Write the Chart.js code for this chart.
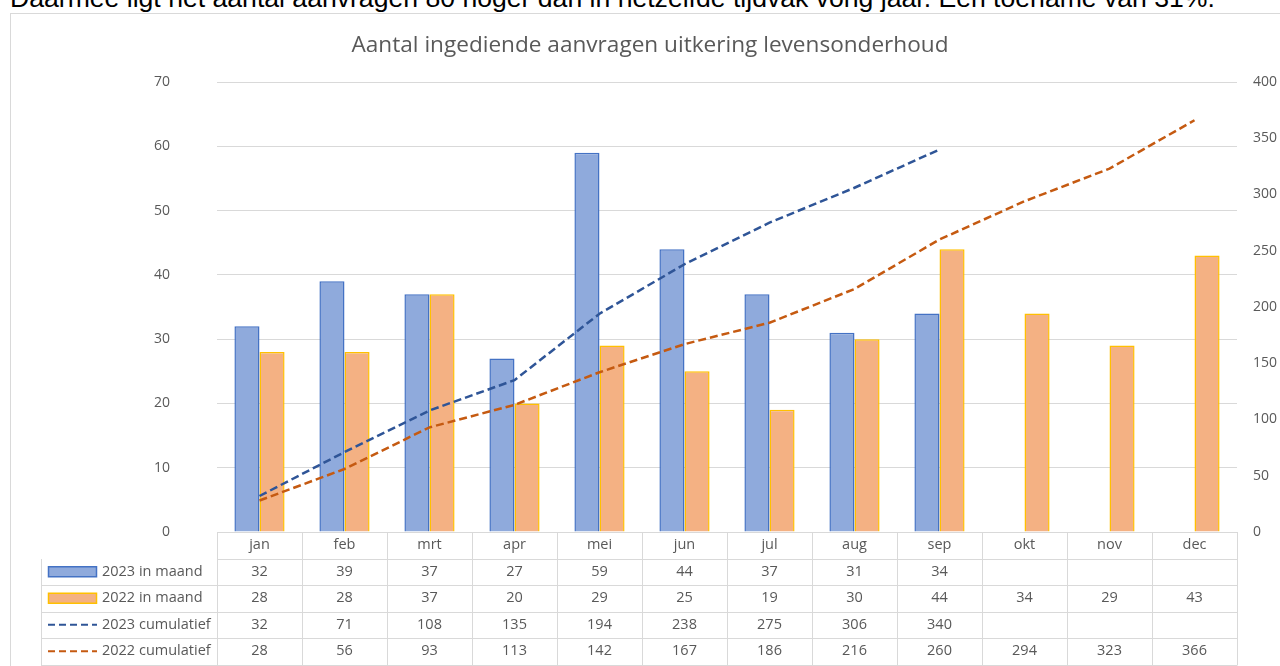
<!DOCTYPE html>
<html>
<head>
<meta charset="utf-8">
<script src="https://cdn.jsdelivr.net/npm/chart.js@4.4.1/dist/chart.umd.min.js"></script>
<style>
  html, body { margin: 0; padding: 0; background: #fff; overflow: hidden; }
  body { width: 1280px; height: 666px; position: relative; }
  #intro {
    position: absolute; left: 10px; top: -15px;
    font-family: "Liberation Sans", Arial, sans-serif; font-size: 26.6px; line-height: 27px;
    color: #000; white-space: nowrap;
  }
  #box {
    position: absolute; left: 10px; top: 13px; width: 1269px; height: 652px;
    border-left: 1px solid #d9d9d9; border-top: 1px solid #d9d9d9;
  }
</style>
</head>
<body>
<div id="intro">Daarmee ligt het aantal aanvragen 80 hoger dan in hetzelfde tijdvak vorig jaar. Een toename van 31%.</div>
<div id="box"><canvas id="grafiek"></canvas></div>
<script>
// Gegevens
const maanden = ['jan', 'feb', 'mrt', 'apr', 'mei', 'jun', 'jul', 'aug', 'sep', 'okt', 'nov', 'dec'];
const maand2023 = [32, 39, 37, 27, 59, 44, 37, 31, 34, null, null, null];
const maand2022 = [28, 28, 37, 20, 29, 25, 19, 30, 44, 34, 29, 43];
const cum2023 = [32, 71, 108, 135, 194, 238, 275, 306, 340, null, null, null];
const cum2022 = [28, 56, 93, 113, 142, 167, 186, 216, 260, 294, 323, 366];
const ticksLinks = [0, 10, 20, 30, 40, 50, 60, 70];
const ticksRechts = [0, 50, 100, 150, 200, 250, 300, 350, 400];

const titel = 'Aantal ingediende aanvragen uitkering levensonderhoud';
const grijs = '#595959';
const lijnkleur = '#d9d9d9';
const font = '"Open Sans", "Noto Sans", sans-serif';

// Reeksen met hun sleutel in de tabel
const reeksen = [
    { label: '2023 in maand', data: maand2023, soort: 'bar', vulling: '#8faadc', rand: '#4472c4' },
    { label: '2022 in maand', data: maand2022, soort: 'bar', vulling: '#f4b183', rand: '#ffc000' },
    { label: '2023 cumulatief', data: cum2023, soort: 'line', rand: '#2f5597' },
    { label: '2022 cumulatief', data: cum2022, soort: 'line', rand: '#c55a11' }
];

// Titel en datatabel onder de grafiek
const tabelPlugin = {
    id: 'tabel',
    afterDraw(chart) {
        const ctx = chart.ctx;
        const x = chart.scales.x;
        const area = chart.chartArea;
        const kol = x.getPixelForValue(1) - x.getPixelForValue(0);
        const rij = 26.5;
        const links = 30;
        const top = area.bottom;

        ctx.save();
        // titel
        ctx.fillStyle = grijs;
        ctx.font = '22.6px ' + font;
        ctx.textAlign = 'center';
        ctx.textBaseline = 'alphabetic';
        ctx.fillText(titel, 639, 38);

        // rasterlijnen
        ctx.strokeStyle = lijnkleur;
        ctx.lineWidth = 1;
        ctx.beginPath();
        for (let r = 1; r <= 5; r++) {
            const y = Math.round(top + r * rij) + 0.5;
            ctx.moveTo(r === 1 ? area.left : links, y);
            ctx.lineTo(area.right, y);
        }
        const bodem = Math.round(top + 5 * rij) + 0.5;
        ctx.moveTo(links + 0.5, Math.round(top + rij));
        ctx.lineTo(links + 0.5, bodem);
        for (let i = 0; i <= maanden.length; i++) {
            const xx = Math.round(area.left + i * kol) + 0.5;
            ctx.moveTo(xx, top);
            ctx.lineTo(xx, bodem);
        }
        ctx.stroke();

        // maanden
        ctx.fillStyle = grijs;
        ctx.font = '14.5px ' + font;
        ctx.textBaseline = 'middle';
        ctx.textAlign = 'center';
        maanden.forEach((m, i) => ctx.fillText(m, x.getPixelForValue(i), top + rij / 2));

        // rijen
        reeksen.forEach((s, r) => {
            const yc = top + (r + 1.5) * rij;
            ctx.textAlign = 'center';
            s.data.forEach((v, i) => {
                if (v !== null) ctx.fillText(String(v), x.getPixelForValue(i), yc);
            });
            // sleutel
            if (s.soort === 'bar') {
                ctx.fillStyle = s.vulling;
                ctx.fillRect(37.5, yc - 5, 48, 10);
                ctx.strokeStyle = s.rand;
                ctx.lineWidth = 1.5;
                ctx.strokeRect(37.5, yc - 5, 48, 10);
            } else {
                ctx.strokeStyle = s.rand;
                ctx.lineWidth = 2.2;
                ctx.setLineDash([7, 4]);
                ctx.beginPath();
                ctx.moveTo(37, yc);
                ctx.lineTo(86, yc);
                ctx.stroke();
                ctx.setLineDash([]);
            }
            ctx.fillStyle = grijs;
            ctx.textAlign = 'left';
            ctx.fillText(s.label, 91, yc);
        });
        ctx.restore();
    }
};

window.onload = function () {
    const ctx = document.getElementById('grafiek');

    const datasets = reeksen.map(s => s.soort === 'bar' ? {
        type: 'bar',
        label: s.label,
        data: s.data,
        backgroundColor: s.vulling,
        borderColor: s.rand,
        borderWidth: 1.5,
        yAxisID: 'y',
        order: 2
    } : {
        type: 'line',
        label: s.label,
        data: s.data,
        borderColor: s.rand,
        borderWidth: 2.5,
        borderDash: [8, 4],
        pointRadius: 0,
        fill: false,
        tension: 0,
        yAxisID: 'y1',
        order: 1
    });

    new Chart(ctx, {
        type: 'bar',
        data: { labels: maanden, datasets: datasets },
        options: {
            responsive: true,
            maintainAspectRatio: false,
            animation: false,
            devicePixelRatio: 1,
            categoryPercentage: 0.59,
            barPercentage: 1,
            layout: { padding: { top: 68, bottom: 134, left: 0, right: 0 } },
            plugins: {
                legend: { display: false },
                title: { display: false },
                tooltip: { enabled: false }
            },
            scales: {
                x: { display: false },
                y: {
                    position: 'left',
                    min: 0, max: 70,
                    afterFit: s => { s.width = 206; },
                    afterBuildTicks: s => { s.ticks = ticksLinks.map(v => ({ value: v })); },
                    grid: { color: lijnkleur, drawTicks: false },
                    border: { display: false },
                    ticks: { color: grijs, padding: 47, font: { family: font, size: 14 } }
                },
                y1: {
                    position: 'right',
                    min: 0, max: 400,
                    afterFit: s => { s.width = 43; },
                    afterBuildTicks: s => { s.ticks = ticksRechts.map(v => ({ value: v })); },
                    grid: { display: false, drawTicks: false },
                    border: { display: false },
                    ticks: { color: grijs, padding: 16, font: { family: font, size: 14 } }
                }
            }
        },
        plugins: [tabelPlugin]
    });
};
</script>
</body>
</html>
